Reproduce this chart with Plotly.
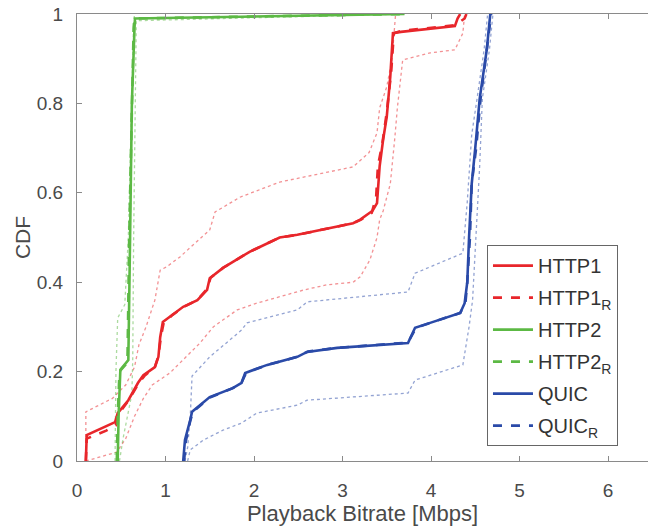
import plotly.graph_objects as go

# ---- data (x = Mbps, y = CDF) ----
http1_x = [0.10, 0.11, 0.43, 0.46, 0.58, 0.69, 0.75, 0.88, 0.92, 0.94, 0.97, 1.08, 1.20, 1.36, 1.47, 1.50, 1.65, 1.95, 2.29, 2.49, 2.75, 3.12, 3.20, 3.34, 3.39, 3.42, 3.46, 3.50, 3.54, 3.57, 3.66, 4.27, 4.30, 4.33]
http1_y = [0.00, 0.058, 0.087, 0.107, 0.136, 0.175, 0.192, 0.21, 0.233, 0.277, 0.311, 0.327, 0.345, 0.36, 0.383, 0.409, 0.432, 0.468, 0.50, 0.506, 0.517, 0.532, 0.54, 0.56, 0.577, 0.66, 0.72, 0.77, 0.86, 0.957, 0.96, 0.973, 0.99, 1.00]

http1r_x = [0.10, 0.11, 0.33, 0.44, 0.47, 0.58, 0.70, 0.76, 0.88, 0.92, 0.95, 0.98, 1.08, 1.21, 1.36, 1.47, 1.51, 1.65, 1.95, 2.29, 2.49, 2.75, 3.12, 3.21, 3.33, 3.38, 3.40, 3.45, 3.50, 3.55, 3.58, 3.66, 4.27, 4.38, 4.40]
http1r_y = [0.00, 0.05, 0.068, 0.08, 0.105, 0.135, 0.175, 0.19, 0.21, 0.235, 0.28, 0.31, 0.327, 0.345, 0.36, 0.385, 0.41, 0.432, 0.468, 0.50, 0.506, 0.517, 0.532, 0.54, 0.555, 0.59, 0.66, 0.71, 0.78, 0.87, 0.957, 0.962, 0.975, 0.99, 1.00]

http1_lo_x = [0.10, 0.10, 0.40, 0.55, 0.65, 0.70, 0.78, 0.88, 0.94, 1.01, 1.16, 1.50, 1.56, 1.84, 2.29, 3.12, 3.30, 3.39, 3.42, 3.50, 3.56, 3.60]
http1_lo_y = [0.00, 0.11, 0.14, 0.17, 0.21, 0.26, 0.30, 0.36, 0.427, 0.434, 0.456, 0.517, 0.557, 0.59, 0.624, 0.658, 0.69, 0.734, 0.79, 0.837, 0.90, 1.00]

http1_hi_x = [0.10, 0.45, 0.55, 0.65, 0.75, 0.85, 1.05, 1.20, 1.39, 1.54, 1.81, 2.03, 2.29, 2.55, 2.82, 3.12, 3.20, 3.31, 3.39, 3.42, 3.46, 3.54, 3.59, 3.62, 3.68, 3.99, 4.27, 4.36, 4.38]
http1_hi_y = [0.00, 0.02, 0.05, 0.10, 0.14, 0.17, 0.197, 0.226, 0.264, 0.30, 0.338, 0.353, 0.367, 0.382, 0.394, 0.40, 0.412, 0.45, 0.50, 0.54, 0.56, 0.62, 0.72, 0.79, 0.897, 0.913, 0.92, 0.957, 1.00]

http2_x = [0.46, 0.47, 0.49, 0.58, 0.60, 0.62, 0.65, 0.655, 3.70]
http2_y = [0.00, 0.10, 0.204, 0.226, 0.50, 0.80, 0.97, 0.99, 1.00]

http2r_x = [0.45, 0.46, 0.48, 0.57, 0.59, 0.62, 0.64, 0.65, 3.70]
http2r_y = [0.00, 0.10, 0.20, 0.22, 0.50, 0.80, 0.97, 0.99, 1.00]

http2_lo_x = [0.43, 0.44, 0.46, 0.54, 0.58, 0.62, 0.64, 0.65]
http2_lo_y = [0.00, 0.20, 0.32, 0.35, 0.50, 0.85, 0.98, 1.00]

http2_hi_x = [0.48, 0.52, 0.62, 0.63, 0.64, 0.66, 0.67, 3.70]
http2_hi_y = [0.00, 0.05, 0.15, 0.23, 0.50, 0.90, 0.985, 1.00]

quic_x = [1.20, 1.22, 1.28, 1.30, 1.50, 1.76, 1.86, 1.90, 2.15, 2.49, 2.60, 2.94, 3.74, 3.82, 3.99, 4.33, 4.38, 4.41, 4.43, 4.46, 4.50, 4.55, 4.63, 4.67]
quic_y = [0.00, 0.047, 0.092, 0.11, 0.143, 0.163, 0.175, 0.197, 0.215, 0.233, 0.244, 0.253, 0.264, 0.298, 0.309, 0.331, 0.353, 0.40, 0.50, 0.62, 0.70, 0.81, 0.92, 1.00]

quicr_x = [1.21, 1.23, 1.28, 1.31, 1.50, 1.76, 1.86, 1.91, 2.15, 2.49, 2.61, 2.94, 3.74, 3.83, 3.99, 4.33, 4.39, 4.41, 4.44, 4.46, 4.51, 4.56, 4.63, 4.68]
quicr_y = [0.00, 0.045, 0.09, 0.11, 0.142, 0.163, 0.176, 0.197, 0.215, 0.233, 0.245, 0.253, 0.265, 0.298, 0.309, 0.331, 0.355, 0.40, 0.50, 0.62, 0.70, 0.81, 0.92, 1.00]

quic_lo_x = [1.22, 1.25, 1.28, 1.30, 1.50, 1.86, 1.92, 2.49, 2.60, 3.74, 3.82, 4.36, 4.41, 4.46, 4.52, 4.60, 4.64]
quic_lo_y = [0.00, 0.03, 0.10, 0.19, 0.233, 0.293, 0.309, 0.338, 0.356, 0.378, 0.42, 0.465, 0.58, 0.73, 0.81, 0.92, 1.00]

quic_hi_x = [1.25, 1.28, 1.43, 1.65, 1.86, 2.03, 2.49, 2.60, 3.74, 3.82, 4.36, 4.43, 4.47, 4.51, 4.55, 4.58, 4.66, 4.70]
quic_hi_y = [0.00, 0.025, 0.047, 0.069, 0.085, 0.107, 0.125, 0.136, 0.152, 0.181, 0.215, 0.30, 0.36, 0.51, 0.66, 0.81, 0.92, 1.00]

x_ticks = [0, 1, 2, 3, 4, 5, 6]
y_ticks = [0, 0.2, 0.4, 0.6, 0.8, 1]
y_tick_text = ["0", "0.2", "0.4", "0.6", "0.8", "1"]

RED = "#e8262b"
GREEN = "#5cb944"
BLUE = "#2a4aa8"

fig = go.Figure()

def bound(x, y, color):
    fig.add_trace(go.Scatter(x=x, y=y, mode="lines", showlegend=False, hoverinfo="skip",
                             opacity=0.5, line=dict(color=color, width=1.3, dash="dot")))

bound(http1_lo_x, http1_lo_y, RED)
bound(http1_hi_x, http1_hi_y, RED)
bound(http2_lo_x, http2_lo_y, GREEN)
bound(http2_hi_x, http2_hi_y, GREEN)
bound(quic_lo_x, quic_lo_y, BLUE)
bound(quic_hi_x, quic_hi_y, BLUE)

def main(x, y, color, name, dash, grp):
    fig.add_trace(go.Scatter(x=x, y=y, mode="lines", name=name, legendgroup=grp,
                             line=dict(color=color, width=2.6, dash=dash)))

main(http1_x, http1_y, RED, "HTTP1", "solid", "g1")
main(http1r_x, http1r_y, RED, "HTTP1<sub>R</sub>", "dash", "g2")
main(http2_x, http2_y, GREEN, "HTTP2", "solid", "g3")
main(http2r_x, http2r_y, GREEN, "HTTP2<sub>R</sub>", "dash", "g4")
main(quic_x, quic_y, BLUE, "QUIC", "solid", "g5")
main(quicr_x, quicr_y, BLUE, "QUIC<sub>R</sub>", "dash", "g6")

FONT = "Liberation Sans, Arial, sans-serif"
AX = "#8a8a8a"
TXT = "#4a4a4a"
fig.update_layout(
    width=648, height=531,
    margin=dict(l=77, r=0, t=14, b=70),
    paper_bgcolor="white", plot_bgcolor="white",
    font=dict(family=FONT, size=19, color=TXT),
    showlegend=True,
    legend=dict(x=0.718, y=0.483, xanchor="left", yanchor="top",
                bgcolor="white", bordercolor="#666666", borderwidth=1,
                font=dict(size=20, color="#333333"), tracegroupgap=3,
                itemwidth=40),
    xaxis=dict(range=[0, 6.452], tickvals=x_ticks, showgrid=False, zeroline=False,
               showline=True, linecolor=AX, linewidth=1.2, mirror="ticks",
               ticks="inside", ticklen=5, tickcolor=AX, ticklabelstandoff=12,
               tickfont=dict(size=19, color=TXT),
               title=dict(text="Playback Bitrate [Mbps]", font=dict(size=22, color=TXT), standoff=4)),
    yaxis=dict(range=[0, 1], tickvals=y_ticks, ticktext=y_tick_text,
               showgrid=False, zeroline=False,
               showline=True, linecolor=AX, linewidth=1.2,
               ticks="inside", ticklen=5, tickcolor=AX, ticklabelstandoff=9,
               tickfont=dict(size=19, color=TXT),
               title=dict(text="CDF", font=dict(size=21, color=TXT), standoff=0)),
)

fig.write_html("out.html")
